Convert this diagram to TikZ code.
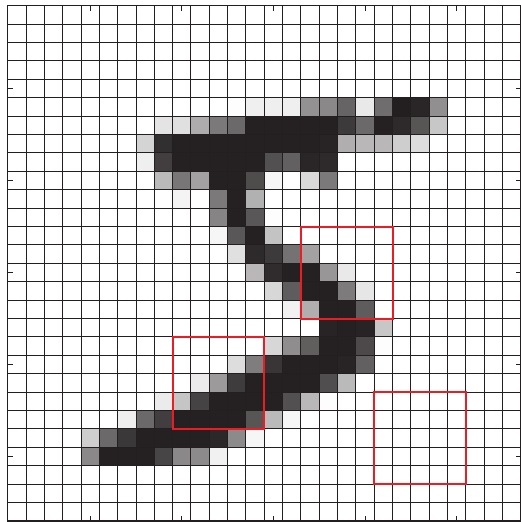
\documentclass[tikz,border=0pt]{standalone}
\definecolor{ink}{RGB}{35,31,32}
\definecolor{boxred}{RGB}{237,28,36}
\newcommand\pixrow[3]{%
  \foreach \v [count=\i from #2] in {#3} {%
    \pgfmathtruncatemacro\p{round(\v/2.55)}%
    \fill[ink!\p!white] (\i,#1) rectangle ++(1,1);%
  }}
\tikzset{
  gridline/.style={ink, line width=1pt},
  frameline/.style={ink, line width=1.5pt},
  tickline/.style={ink, line width=1pt},
  redbox/.style={boxred, line width=2pt}
}
\begin{document}
\begin{tikzpicture}[x=18.33pt, y=-18.4pt]
\useasboundingbox (-0.42,-0.31) rectangle (28.0,28.06);
\fill[white] (-0.42,-0.31) rectangle (28.0,28.06);
% pixels (MNIST digit)
\pixrow{5}{12}{3,18,18,18,126,136,175,26,166,255,247,127}
\pixrow{6}{8}{30,36,94,154,170,253,253,253,253,253,225,172,253,242,195,64}
\pixrow{7}{7}{49,238,253,253,253,253,253,253,253,253,251,93,82,82,56,39}
\pixrow{8}{7}{18,219,253,253,253,253,253,198,182,247,241}
\pixrow{9}{8}{80,156,107,253,253,205,11,0,43,154}
\pixrow{10}{9}{14,1,154,253,90}
\pixrow{11}{11}{139,253,190,2}
\pixrow{12}{11}{11,190,253,70}
\pixrow{13}{12}{35,241,225,160,108,1}
\pixrow{14}{13}{81,240,253,253,119,25}
\pixrow{15}{14}{45,186,253,253,150,27}
\pixrow{16}{15}{16,93,252,253,187}
\pixrow{17}{17}{249,253,249,64}
\pixrow{18}{14}{46,130,183,253,253,207,2}
\pixrow{19}{12}{39,148,229,253,253,253,250,182}
\pixrow{20}{10}{24,114,221,253,253,253,253,201,78}
\pixrow{21}{8}{23,66,213,253,253,253,253,198,81,2}
\pixrow{22}{6}{18,171,219,253,253,253,253,195,80,9}
\pixrow{23}{4}{55,172,226,253,253,253,253,244,133,11}
\pixrow{24}{4}{136,253,253,253,212,135,132,16}
% grid
\foreach \k in {1,...,27} {
  \draw[gridline] (\k,0) -- (\k,28);
  \draw[gridline] (0,\k) -- (28,\k);
}
\draw[frameline] (0,0) rectangle (28,28);
% ticks
\foreach \k in {5,10,15,20,25} {
  \draw[tickline] (\k-0.5,0) -- (\k-0.5,0.28);
  \draw[tickline] (\k-0.5,28) -- (\k-0.5,27.72);
  \draw[tickline] (0,\k-0.5) -- (0.28,\k-0.5);
  \draw[tickline] (28,\k-0.5) -- (27.72,\k-0.5);
}
% red boxes
\draw[redbox] (16,12) rectangle (21,17);
\draw[redbox] (9,18) rectangle (14,23);
\draw[redbox] (20,21) rectangle (25,26);
\end{tikzpicture}
\end{document}
